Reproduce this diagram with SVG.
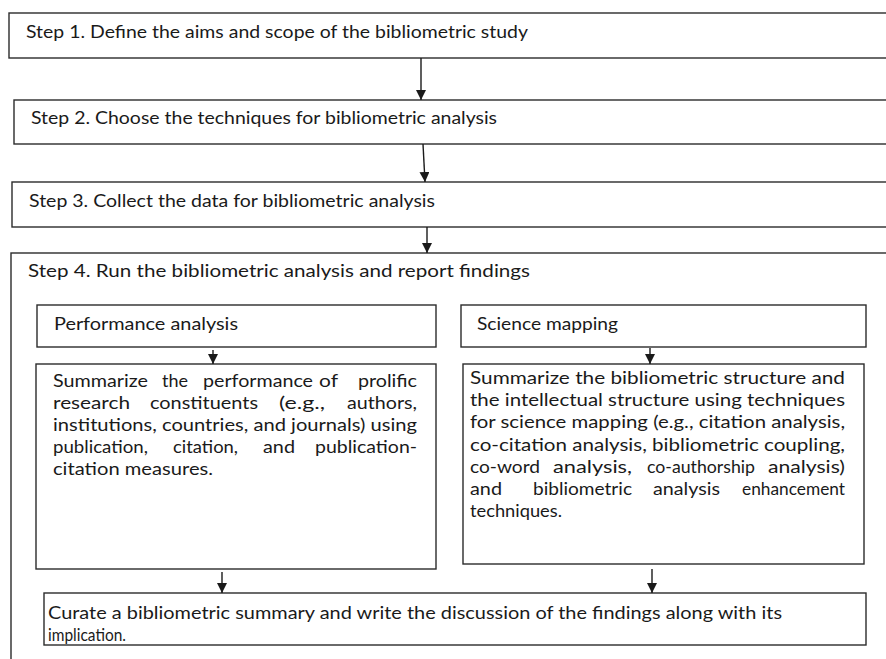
<svg xmlns="http://www.w3.org/2000/svg" width="886" height="659" viewBox="0 0 886 659">
  <style>
    .box { fill: #ffffff; stroke: #2b2b2b; stroke-width: 1.4; }
    .t { font-family: Lato, "Liberation Sans", sans-serif; font-size: 16.5px; fill: #1a1a1a; }
    .b { font-family: Lato, "Liberation Sans", sans-serif; font-size: 17px; fill: #1a1a1a; }
    .link { stroke: #1a1a1a; stroke-width: 1.4; fill: none; marker-end: url(#head); }
  </style>
  <defs>
    <marker id="head" viewBox="0 0 10 10" refX="10" refY="5" markerWidth="10" markerHeight="10" markerUnits="userSpaceOnUse" orient="auto">
      <path d="M0,0 L10,5 L0,10 Z" fill="#1a1a1a"/>
    </marker>
    <clipPath id="curateClip">
      <rect x="44" y="593" width="822" height="51"/>
    </clipPath>
  </defs>
  <rect width="886" height="659" fill="#ffffff"/>

  <!-- Step 4 container (drawn first so inner boxes sit on top) -->
  <g id="step4">
    <rect class="box" x="11" y="253" width="900" height="420"/>
    <text class="t" x="28" y="277" textLength="502" lengthAdjust="spacingAndGlyphs">Step 4. Run the bibliometric analysis and report findings</text>
  </g>

  <g id="step1">
    <rect class="box" x="9" y="13" width="900" height="45"/>
    <text class="t" x="26" y="38" textLength="502" lengthAdjust="spacingAndGlyphs">Step 1. Define the aims and scope of the bibliometric study</text>
  </g>

  <g id="step2">
    <rect class="box" x="14" y="100" width="900" height="44"/>
    <text class="t" x="31" y="124" textLength="466" lengthAdjust="spacingAndGlyphs">Step 2. Choose the techniques for bibliometric analysis</text>
  </g>

  <g id="step3">
    <rect class="box" x="12" y="182" width="900" height="45"/>
    <text class="t" x="29" y="207" textLength="406" lengthAdjust="spacingAndGlyphs">Step 3. Collect the data for bibliometric analysis</text>
  </g>

  <g id="performance-analysis">
    <rect class="box" x="37" y="305" width="399" height="42"/>
    <text class="b" x="54" y="330" textLength="184" lengthAdjust="spacingAndGlyphs">Performance analysis</text>
  </g>

  <g id="science-mapping">
    <rect class="box" x="461" y="305" width="405" height="42"/>
    <text class="b" x="477" y="330" textLength="141" lengthAdjust="spacingAndGlyphs">Science mapping</text>
  </g>

  <!-- justified paragraph: spread lines are set word by word -->
  <g id="performance-summary">
    <rect class="box" x="36" y="364" width="400" height="205"/>
    <text class="b" x="53" y="387" textLength="95" lengthAdjust="spacingAndGlyphs">Summarize</text>
    <text class="b" x="162" y="387" textLength="26" lengthAdjust="spacingAndGlyphs">the</text>
    <text class="b" x="203" y="387" textLength="110" lengthAdjust="spacingAndGlyphs">performance</text>
    <text class="b" x="319" y="387" textLength="19" lengthAdjust="spacingAndGlyphs">of</text>
    <text class="b" x="358" y="387" textLength="59" lengthAdjust="spacingAndGlyphs">prolific</text>

    <text class="b" x="53" y="409" textLength="77" lengthAdjust="spacingAndGlyphs">research</text>
    <text class="b" x="150" y="409" textLength="108" lengthAdjust="spacingAndGlyphs">constituents</text>
    <text class="b" x="279" y="409" textLength="46" lengthAdjust="spacingAndGlyphs">(e.g.,</text>
    <text class="b" x="347" y="409" textLength="70" lengthAdjust="spacingAndGlyphs">authors,</text>

    <text class="b" x="53" y="431" textLength="364" lengthAdjust="spacingAndGlyphs">institutions, countries, and journals) using</text>

    <text class="b" x="53" y="453" textLength="95" lengthAdjust="spacingAndGlyphs">publication,</text>
    <text class="b" x="173" y="453" textLength="65" lengthAdjust="spacingAndGlyphs">citation,</text>
    <text class="b" x="263" y="453" textLength="32" lengthAdjust="spacingAndGlyphs">and</text>
    <text class="b" x="315" y="453" textLength="102" lengthAdjust="spacingAndGlyphs">publication-</text>

    <text class="b" x="53" y="475" textLength="160" lengthAdjust="spacingAndGlyphs">citation measures.</text>
  </g>

  <g id="mapping-summary">
    <rect class="box" x="463" y="364" width="401" height="200"/>
    <text class="b" x="470" y="384" textLength="375" lengthAdjust="spacingAndGlyphs">Summarize the bibliometric structure and</text>
    <text class="b" x="470" y="406" textLength="375" lengthAdjust="spacingAndGlyphs">the intellectual structure using techniques</text>
    <text class="b" x="470" y="428" textLength="375" lengthAdjust="spacingAndGlyphs">for science mapping (e.g., citation analysis,</text>
    <text class="b" x="470" y="451" textLength="375" lengthAdjust="spacingAndGlyphs">co-citation analysis, bibliometric coupling,</text>

    <text class="b" x="470" y="473" textLength="70" lengthAdjust="spacingAndGlyphs">co-word</text>
    <text class="b" x="553" y="473" textLength="79" lengthAdjust="spacingAndGlyphs">analysis,</text>
    <text class="b" x="647" y="473" textLength="108" lengthAdjust="spacingAndGlyphs">co-authorship</text>
    <text class="b" x="768" y="473" textLength="77" lengthAdjust="spacingAndGlyphs">analysis)</text>

    <text class="b" x="470" y="495" textLength="32" lengthAdjust="spacingAndGlyphs">and</text>
    <text class="b" x="533" y="495" textLength="99" lengthAdjust="spacingAndGlyphs">bibliometric</text>
    <text class="b" x="653" y="495" textLength="67" lengthAdjust="spacingAndGlyphs">analysis</text>
    <text class="b" x="742" y="495" textLength="103" lengthAdjust="spacingAndGlyphs">enhancement</text>

    <text class="b" x="470" y="517" textLength="92" lengthAdjust="spacingAndGlyphs">techniques.</text>
  </g>

  <g id="curate-summary">
    <rect class="box" x="44" y="593" width="822" height="52"/>
    <g clip-path="url(#curateClip)">
      <text class="b" x="48" y="619" textLength="734" lengthAdjust="spacingAndGlyphs">Curate a bibliometric summary and write the discussion of the findings along with its</text>
      <text class="b" x="48" y="641" textLength="78" lengthAdjust="spacingAndGlyphs">implication.</text>
    </g>
  </g>

  <g id="connectors">
    <line class="link" x1="421" y1="58" x2="421" y2="100"/>
    <line class="link" x1="423" y1="144" x2="425" y2="182"/>
    <line class="link" x1="427" y1="227" x2="427" y2="253"/>
    <line class="link" x1="213" y1="350" x2="213" y2="364"/>
    <line class="link" x1="650" y1="348" x2="650" y2="364"/>
    <line class="link" x1="222" y1="572" x2="222" y2="593"/>
    <line class="link" x1="652" y1="569" x2="652" y2="593"/>
  </g>
</svg>
